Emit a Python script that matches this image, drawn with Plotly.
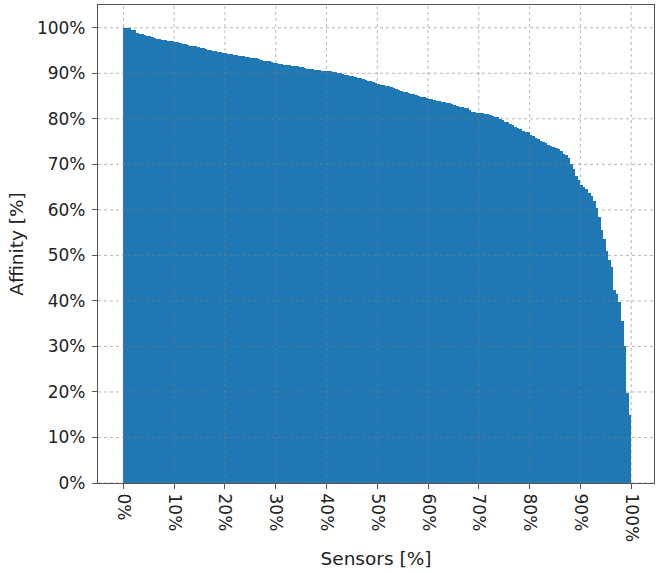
import plotly.graph_objects as go

# Sorted affinity per sensor bin (each bin = 0.5 % of sensors)
sensor_pct = [i * 0.5 for i in range(200)]
affinity = [
    100.0, 100.0, 100.0, 99.4, 99.4, 98.8, 98.7, 98.6, 98.4, 98.3,
    98.1, 97.9, 97.8, 97.6, 97.5, 97.4, 97.3, 97.2, 97.1, 97.0,
    96.9, 96.8, 96.6, 96.5, 96.4, 96.3, 96.1, 96.0, 95.9, 95.8,
    95.6, 95.5, 95.4, 95.2, 95.1, 95.0, 94.8, 94.7, 94.6, 94.5,
    94.4, 94.3, 94.2, 94.1, 94.0, 93.9, 93.8, 93.7, 93.6, 93.5,
    93.4, 93.4, 93.3, 93.2, 93.0, 92.8, 92.7, 92.6, 92.4, 92.3,
    92.2, 92.1, 92.0, 91.9, 91.8, 91.8, 91.7, 91.6, 91.5, 91.4,
    91.3, 91.2, 91.0, 90.9, 90.9, 90.8, 90.7, 90.7, 90.6, 90.5,
    90.5, 90.4, 90.3, 90.2, 90.1, 90.0, 89.9, 89.7, 89.6, 89.4,
    89.3, 89.2, 89.0, 88.9, 88.7, 88.5, 88.4, 88.2, 88.0, 87.9,
    87.7, 87.5, 87.4, 87.2, 87.1, 86.9, 86.7, 86.6, 86.4, 86.2,
    86.0, 85.9, 85.7, 85.5, 85.4, 85.2, 85.1, 84.9, 84.8, 84.6,
    84.4, 84.3, 84.2, 84.0, 83.9, 83.8, 83.6, 83.5, 83.4, 83.3,
    83.1, 82.9, 82.7, 82.6, 82.4, 82.3, 82.0, 81.6, 81.5, 81.3,
    81.3, 81.2, 81.1, 81.1, 80.9, 80.6, 80.5, 80.3, 80.0, 79.7,
    79.4, 79.2, 78.9, 78.7, 78.3, 78.0, 77.7, 77.4, 77.2, 77.0,
    76.5, 76.2, 75.8, 75.5, 75.2, 74.8, 74.6, 74.3, 74.1, 73.8,
    73.5, 73.3, 73.0, 72.3, 72.0, 71.5, 70.0, 69.0, 67.5, 66.5,
    65.5, 65.0, 64.5, 63.7, 63.0, 62.0, 60.5, 58.5, 55.5, 53.5,
    51.0, 49.0, 47.5, 42.4, 41.5, 39.8, 35.5, 30.0, 19.8, 15.0,
]
bar_width = 0.5
tick_vals = list(range(0, 101, 10))
tick_text = [f"{v}%" for v in tick_vals]

FONT = "DejaVu Sans"

fig = go.Figure(go.Bar(
    x=sensor_pct, y=affinity, width=bar_width, offset=0,
    marker=dict(color="#1f77b4", line=dict(width=0)),
))

shapes = []
for v in tick_vals:
    shapes.append(dict(type="line", xref="x", yref="paper", x0=v, x1=v, y0=0, y1=1,
                       line=dict(color="rgba(128,128,128,0.7)", width=0.8, dash="dot"),
                       layer="above"))
    shapes.append(dict(type="line", xref="paper", yref="y", x0=0, x1=1, y0=v, y1=v,
                       line=dict(color="rgba(128,128,128,0.7)", width=0.8, dash="dot"),
                       layer="above"))

fig.update_layout(
    width=656, height=573,
    margin=dict(l=98, r=2, t=5, b=90, autoexpand=False),
    paper_bgcolor="white", plot_bgcolor="white",
    bargap=0, showlegend=False,
    font=dict(family=FONT, size=16, color="#222"),
    shapes=shapes,
    xaxis=dict(
        range=[-5, 104.5], tickvals=tick_vals, ticktext=tick_text, tickangle=90,
        showgrid=False, zeroline=False, showline=True, mirror=True, automargin=False,
        linecolor="#555", linewidth=1.2, ticks="outside", ticklen=5, tickcolor="#555",
        tickfont=dict(family=FONT, size=17), ticklabelstandoff=1,
        title=dict(text="Sensors [%]", font=dict(family=FONT, size=18.5), standoff=10),
    ),
    yaxis=dict(
        range=[0, 105], tickvals=tick_vals, ticktext=tick_text,
        showgrid=False, zeroline=False, showline=True, mirror=True, automargin=False,
        linecolor="#555", linewidth=1.2, ticks="outside", ticklen=5, tickcolor="#555",
        tickfont=dict(family=FONT, size=17), ticklabelstandoff=3,
        title=dict(text="Affinity [%]", font=dict(family=FONT, size=18.5), standoff=8),
    ),
)

fig.write_html("out.html", config={"displayModeBar": False},
               post_script="document.body.style.margin='0';")
